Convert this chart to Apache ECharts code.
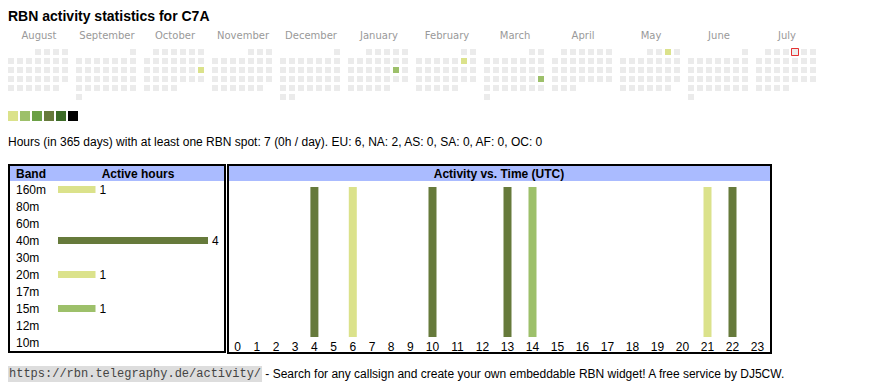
<!DOCTYPE html>
<html><head><meta charset="utf-8">
<script src="https://cdn.jsdelivr.net/npm/echarts@6/dist/echarts.min.js"></script>
<style>html,body{margin:0;padding:0;background:#fff}#c{width:870px;height:390px}</style>
</head><body><div id="c"></div>
<script>
// ---- data ----
const titleText = 'RBN activity statistics for C7A';
const monthKeys = ['2024-08','2024-09','2024-10','2024-11','2024-12','2025-01','2025-02','2025-03','2025-04','2025-05','2025-06','2025-07'];
const monthNames = ['August','September','October','November','December','January','February','March','April','May','June','July'];
const activeDays = ['2024-10-20','2025-01-18','2025-02-08','2025-03-23','2025-05-03'];
const activeDayHours = [1, 2, 1, 2, 1];
const todayDate = '2025-07-04';
const levelColors = ['#dbe28b','#9dc06a','#6ba046','#667a3b','#3c6b27','#000000'];
const levelPieces = [[1,1],[2,2],[3,4],[5,8],[9,16],[17,24]];
const summaryText = 'Hours (in 365 days) with at least one RBN spot: 7 (0h / day). EU: 6, NA: 2, AS: 0, SA: 0, AF: 0, OC: 0';
const bands = ['160m','80m','60m','40m','30m','20m','17m','15m','12m','10m'];
const bandHours = [1, 0, 0, 4, 0, 1, 0, 1, 0, 0];
const bandLevels = [1, 0, 0, 4, 0, 1, 0, 2, 0, 0];
const hours = ['0','1','2','3','4','5','6','7','8','9','10','11','12','13','14','15','16','17','18','19','20','21','22','23'];
const hourActive = [0,0,0,0,1,0,1,0,0,0,1,0,0,1,1,0,0,0,0,0,0,1,1,0];
const hourLevels = [0,0,0,0,4,0,1,0,0,0,4,0,0,4,2,0,0,0,0,0,0,1,4,0];
const footerUrl = 'https://rbn.telegraphy.de/activity/';
const footerText = ' - Search for any callsign and create your own embeddable RBN widget! A free service by DJ5CW.';

// ---- helpers (local-time dates so weekday placement is timezone-proof) ----
const ymd = s => { const p = s.split('-').map(Number); return new Date(p[0], p[1] - 1, p[2] || 1); };
const monthRange = k => { const d = ymd(k); return [new Date(d.getFullYear(), d.getMonth(), 1), new Date(d.getFullYear(), d.getMonth() + 1, 0)]; };

// ---- layout ----
const SANS = '"Liberation Sans", Arial, sans-serif';
const calLeft0 = 6.5, calStep = 68, calTop = 47.5, cell = 9;
const splitHour = 10;

const chart = echarts.init(document.getElementById('c'), null, {renderer: 'svg'});

const calendars = monthKeys.map((m, i) => ({
  orient: 'vertical', range: monthRange(m), cellSize: [cell, cell],
  left: calLeft0 + calStep * i, top: calTop,
  dayLabel: {show: false, firstDay: 1}, monthLabel: {show: false}, yearLabel: {show: false},
  splitLine: {show: false},
  itemStyle: {color: '#ebebeb', borderColor: '#ffffff', borderWidth: 3}
}));

const heatSeries = monthKeys.map((m, i) => ({
  type: 'heatmap', coordinateSystem: 'calendar', calendarIndex: i,
  data: activeDays.map((d, j) => [d, activeDayHours[j]]).filter(p => p[0].startsWith(m)).map(p => [ymd(p[0]).getTime(), p[1]]),
  emphasis: {disabled: true}, silent: true
}));

const colorOf = lv => lv > 0 ? levelColors[lv - 1] : 'transparent';

const series = heatSeries.concat([
  {
    type: 'scatter', coordinateSystem: 'calendar', calendarIndex: monthKeys.indexOf(todayDate.slice(0, 7)),
    data: [[ymd(todayDate).getTime(), 1]], symbol: 'rect', symbolSize: 7,
    itemStyle: {color: '#eeeeee', borderColor: '#e00000', borderWidth: 1}, silent: true
  },
  {
    type: 'bar', xAxisIndex: 0, yAxisIndex: 0, barWidth: 7,
    data: bandHours.map((v, i) => ({value: v, itemStyle: {color: colorOf(bandLevels[i])}})),
    label: {show: true, position: 'right', distance: 4, fontSize: 12, fontFamily: SANS, color: '#000',
      formatter: p => p.value > 0 ? String(p.value) : ''},
    silent: true
  },
  {
    type: 'bar', xAxisIndex: 1, yAxisIndex: 1, barWidth: 8,
    data: hourActive.slice(0, splitHour).map((v, i) => ({value: v, itemStyle: {color: colorOf(hourLevels[i])}})),
    silent: true
  },
  {
    type: 'bar', xAxisIndex: 2, yAxisIndex: 2, barWidth: 8,
    data: hourActive.slice(splitHour).map((v, i) => ({value: v, itemStyle: {color: colorOf(hourLevels[i + splitHour])}})),
    silent: true
  }
]);

const hourAxis = (gi, d) => ({
  gridIndex: gi, type: 'category', data: d,
  axisLine: {show: false}, axisTick: {show: false}, splitLine: {show: false},
  axisLabel: {margin: 4, fontSize: 12, fontFamily: SANS, color: '#000', interval: 0}
});

const graphics = [
  {type: 'text', x: 8, y: 16, style: {text: titleText, font: 'bold 14px ' + SANS, fill: '#000', verticalAlign: 'middle'}},
  {type: 'text', x: 8, y: 142, style: {text: summaryText, font: '12px ' + SANS, fill: '#000', verticalAlign: 'middle'}},
  // left box
  {type: 'rect', shape: {x: 10, y: 166, width: 214, height: 15}, style: {fill: '#aabbff'}},
  {type: 'rect', shape: {x: 9, y: 165, width: 216, height: 187}, style: {fill: null, stroke: '#000', lineWidth: 2}},
  {type: 'text', x: 16, y: 173.5, style: {text: 'Band', font: 'bold 12px ' + SANS, fill: '#000', verticalAlign: 'middle'}},
  {type: 'text', x: 138, y: 173.5, style: {text: 'Active hours', font: 'bold 12px ' + SANS, fill: '#000', align: 'center', verticalAlign: 'middle'}},
  // right box
  {type: 'rect', shape: {x: 229, y: 166, width: 541, height: 15}, style: {fill: '#aabbff'}},
  {type: 'rect', shape: {x: 228, y: 165, width: 543, height: 188}, style: {fill: null, stroke: '#000', lineWidth: 2}},
  {type: 'text', x: 499, y: 173.5, style: {text: 'Activity vs. Time (UTC)', font: 'bold 12px ' + SANS, fill: '#000', align: 'center', verticalAlign: 'middle'}},
  // footer
  {type: 'text', x: 8, y: 374, style: {
    text: '{u|' + footerUrl + '}{t|' + footerText + '}', verticalAlign: 'middle',
    rich: {
      u: {fontFamily: '"Liberation Mono", monospace', fontSize: 12, fill: '#444', backgroundColor: '#dddddd', padding: [2, 1, 2, 1]},
      t: {fontFamily: SANS, fontSize: 12, fill: '#000'}
    }
  }}
].concat(monthNames.map((n, i) => ({
  type: 'text', x: calLeft0 + calStep * i + cell * 3.5 + 1, y: 35,
  style: {text: n, font: '10px "DejaVu Sans", Verdana, sans-serif', fill: '#999', align: 'center', verticalAlign: 'middle'}
})));

chart.setOption({
  animation: false,
  calendar: calendars,
  visualMap: {
    type: 'piecewise', seriesIndex: heatSeries.map((s, i) => i),
    orient: 'horizontal', left: 8, top: 111, padding: 0,
    itemWidth: 10, itemHeight: 10, itemGap: 2, itemSymbol: 'rect', showLabel: false,
    selectedMode: false, hoverLink: false,
    pieces: levelPieces.map((p, i) => ({min: p[0], max: p[1], color: levelColors[i]}))
  },
  grid: [
    {left: 58, top: 181, width: 150, height: 170},
    {left: 228, top: 187, width: 192, height: 150},
    {left: 420, top: 187, width: 350, height: 150}
  ],
  xAxis: [
    {gridIndex: 0, type: 'value', min: 0, max: Math.max(...bandHours), show: false},
    hourAxis(1, hours.slice(0, splitHour)),
    hourAxis(2, hours.slice(splitHour))
  ],
  yAxis: [
    {gridIndex: 0, type: 'category', data: bands, inverse: true,
      axisLine: {show: false}, axisTick: {show: false},
      axisLabel: {align: 'left', margin: 42, fontSize: 12, fontFamily: SANS, color: '#000'}},
    {gridIndex: 1, type: 'value', min: 0, max: 1, show: false},
    {gridIndex: 2, type: 'value', min: 0, max: 1, show: false}
  ],
  graphic: graphics,
  series: series
});
</script></body></html>
